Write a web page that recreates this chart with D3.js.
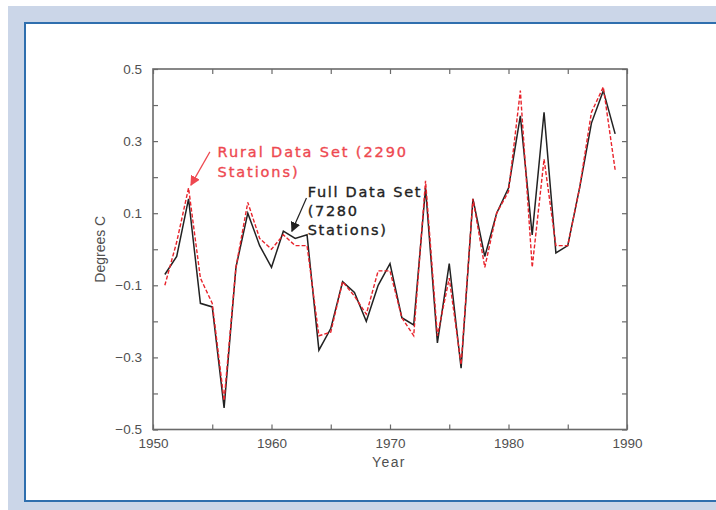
<!DOCTYPE html>
<html>
<head>
<meta charset="utf-8">
<script src="https://cdn.jsdelivr.net/npm/d3@7"></script>
<style>
  html, body { margin: 0; padding: 0; background: #ffffff; }
  svg { display: block; }
</style>
</head>
<body>
<svg id="chart" width="716" height="510"></svg>
<script>
// Annual temperature anomalies (degrees C), 1951-1989
const years = [1951, 1952, 1953, 1954, 1955, 1956, 1957, 1958, 1959, 1960,
               1961, 1962, 1963, 1964, 1965, 1966, 1967, 1968, 1969, 1970,
               1971, 1972, 1973, 1974, 1975, 1976, 1977, 1978, 1979, 1980,
               1981, 1982, 1983, 1984, 1985, 1986, 1987, 1988, 1989];

// Full data set (7280 stations)
const fullSeries = [-0.07, -0.02, 0.14, -0.15, -0.16, -0.44, -0.05, 0.10, 0.01, -0.05,
                    0.05, 0.03, 0.04, -0.28, -0.22, -0.09, -0.12, -0.20, -0.10, -0.04,
                    -0.19, -0.21, 0.17, -0.26, -0.04, -0.33, 0.14, -0.02, 0.10, 0.17,
                    0.37, 0.04, 0.38, -0.01, 0.01, 0.17, 0.35, 0.44, 0.32];

// Rural data set (2290 stations)
const ruralSeries = [-0.10, 0.02, 0.17, -0.08, -0.15, -0.42, -0.05, 0.13, 0.03, 0.00,
                     0.04, 0.01, 0.01, -0.24, -0.23, -0.09, -0.13, -0.18, -0.06, -0.06,
                     -0.19, -0.24, 0.19, -0.24, -0.08, -0.32, 0.14, -0.05, 0.10, 0.16,
                     0.44, -0.05, 0.25, 0.01, 0.01, 0.17, 0.38, 0.45, 0.22];

const xTickYears = [1950, 1960, 1970, 1980, 1990];
const xMinorYears = [1955, 1965, 1975, 1985];
const yTickLabels = [-0.5, -0.3, -0.1, 0.1, 0.3, 0.5];
const yMinorTicks = [-0.4, -0.2, 0.0, 0.2, 0.4];

const svg = d3.select("#chart");

// Page frame: light blue band with a blue-edged white panel
svg.append("rect").attr("x", 8).attr("y", 6).attr("width", 708).attr("height", 504)
  .attr("fill", "#cbd6e8");
svg.append("rect").attr("x", 25).attr("y", 23).attr("width", 700).attr("height", 478)
  .attr("fill", "#ffffff").attr("stroke", "#2f6fae").attr("stroke-width", 2);

const plot = { left: 153, right: 627, top: 69, bottom: 429.5 };

const x = d3.scaleLinear().domain([1950, 1990]).range([plot.left, plot.right]);
const y = d3.scaleLinear().domain([-0.5, 0.5]).range([plot.bottom, plot.top]);

const axisColor = "#6a6a6a";
const tickFont = "'Liberation Sans', Arial, sans-serif";

// Inward ticks on all four sides
function styleAxis(g) {
  g.select(".domain").remove();
  g.selectAll(".tick line").attr("stroke", axisColor).attr("stroke-width", 1.2);
  g.selectAll(".tick text").attr("fill", "#505050").attr("font-family", tickFont)
    .attr("font-size", 13.5);
}

const allX = xTickYears.concat(xMinorYears).sort((a, b) => a - b);
const allY = yTickLabels.concat(yMinorTicks).sort((a, b) => a - b);

svg.append("g").attr("transform", `translate(0,${plot.bottom})`)
  .call(d3.axisBottom(x).tickValues(allX).tickSizeInner(-5).tickSizeOuter(0)
    .tickPadding(9)
    .tickFormat(d => xTickYears.includes(d) ? d3.format("d")(d) : ""))
  .call(styleAxis);

svg.append("g").attr("transform", `translate(0,${plot.top})`)
  .call(d3.axisTop(x).tickValues(allX).tickSizeInner(-5).tickSizeOuter(0)
    .tickFormat(""))
  .call(styleAxis);

svg.append("g").attr("transform", `translate(${plot.left},0)`)
  .call(d3.axisLeft(y).tickValues(allY).tickSizeInner(-5).tickSizeOuter(0)
    .tickPadding(11)
    .tickFormat(d => yTickLabels.some(v => Math.abs(v - d) < 1e-9) ? d3.format(".1f")(d) : ""))
  .call(styleAxis);

svg.append("g").attr("transform", `translate(${plot.right},0)`)
  .call(d3.axisRight(y).tickValues(allY).tickSizeInner(-5).tickSizeOuter(0)
    .tickFormat(""))
  .call(styleAxis);

// Plot border
svg.append("rect")
  .attr("x", plot.left).attr("y", plot.top)
  .attr("width", plot.right - plot.left).attr("height", plot.bottom - plot.top)
  .attr("fill", "none").attr("stroke", axisColor).attr("stroke-width", 1.6);

// Axis titles
svg.append("text")
  .attr("x", (plot.left + plot.right) / 2 - 1).attr("y", 467)
  .attr("text-anchor", "middle")
  .attr("font-family", tickFont).attr("font-size", 14).attr("letter-spacing", 1.4)
  .attr("fill", "#505050").text("Year");

svg.append("text")
  .attr("transform", `translate(105,${(plot.top + plot.bottom) / 2}) rotate(-90)`)
  .attr("text-anchor", "middle")
  .attr("font-family", tickFont).attr("font-size", 14)
  .attr("fill", "#505050").text("Degrees C");

// Series lines
const line = d3.line().x(d => x(d[0])).y(d => y(d[1]));

svg.append("path")
  .datum(years.map((yr, i) => [yr, fullSeries[i]]))
  .attr("d", line).attr("fill", "none")
  .attr("stroke", "#222222").attr("stroke-width", 1.5)
  .attr("stroke-linejoin", "miter");

svg.append("path")
  .datum(years.map((yr, i) => [yr, ruralSeries[i]]))
  .attr("d", line).attr("fill", "none")
  .attr("stroke", "#e8232b").attr("stroke-width", 1.4)
  .attr("stroke-dasharray", "4,2");

// Annotations with arrows
const defs = svg.append("defs");
function marker(id, color) {
  defs.append("marker").attr("id", id)
    .attr("viewBox", "0 0 10 10").attr("refX", 9).attr("refY", 5)
    .attr("markerWidth", 10).attr("markerHeight", 10)
    .attr("markerUnits", "userSpaceOnUse").attr("orient", "auto")
    .append("path").attr("d", "M0,0 L10,5 L0,10 Z").attr("fill", color);
}
marker("arrowRed", "#ee4850");
marker("arrowBlack", "#222222");

const noteFont = "'DejaVu Sans', Verdana, sans-serif";

const ruralNote = ["Rural Data Set (2290", "Stations)"];
const fullNote = ["Full Data Set", "(7280", "Stations)"];

svg.append("line")
  .attr("x1", x(1954.8)).attr("y1", y(0.27))
  .attr("x2", x(1953.2)).attr("y2", y(0.178))
  .attr("stroke", "#ee4850").attr("stroke-width", 1.2)
  .attr("marker-end", "url(#arrowRed)");

svg.append("line")
  .attr("x1", x(1962.95)).attr("y1", y(0.142))
  .attr("x2", x(1961.72)).attr("y2", y(0.05))
  .attr("stroke", "#222222").attr("stroke-width", 1.2)
  .attr("marker-end", "url(#arrowBlack)");

svg.append("text")
  .attr("x", x(1955.45)).attr("y", y(0.255))
  .attr("font-family", noteFont).attr("font-size", 14.5).attr("letter-spacing", 1.9)
  .attr("fill", "#ee4850").attr("stroke", "#ee4850").attr("stroke-width", 0.35)
  .selectAll("tspan").data(ruralNote).join("tspan")
  .attr("x", x(1955.45)).attr("dy", (d, i) => i === 0 ? 0 : 19.5)
  .text(d => d);

svg.append("text")
  .attr("x", x(1963.05)).attr("y", y(0.146))
  .attr("font-family", noteFont).attr("font-size", 14.5).attr("letter-spacing", 1.7)
  .attr("fill", "#222222").attr("stroke", "#222222").attr("stroke-width", 0.35)
  .selectAll("tspan").data(fullNote).join("tspan")
  .attr("x", x(1963.05)).attr("dy", (d, i) => i === 0 ? 0 : 19.3)
  .text(d => d);
</script>
</body>
</html>
